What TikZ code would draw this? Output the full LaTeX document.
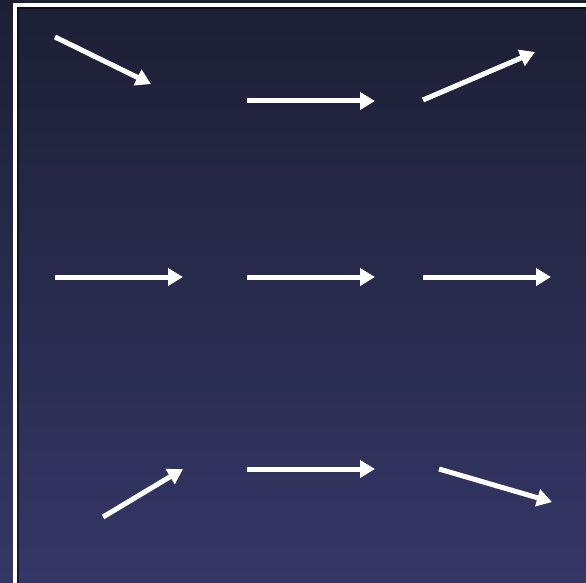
\documentclass[tikz,border=0pt]{standalone}
\usetikzlibrary{arrows.meta}
\definecolor{bgtop}{RGB}{29,31,52}
\definecolor{bgbot}{RGB}{52,55,102}
\tikzset{
  arr/.style={draw=white, line width=5pt, -{Triangle[length=15pt,width=17pt]}},
  frame/.style={draw=white, line width=4pt},
  shadowline/.style={draw=black, opacity=0.55, line width=2pt}
}
\begin{document}
\begin{tikzpicture}[x=1pt,y=-1pt]
  \useasboundingbox (0,0) rectangle (586,583);
  \shade[top color=bgtop, bottom color=bgbot] (0,0) rectangle (586,583);
  % frame
  \draw[shadowline] (18,600) -- (18,8) -- (600,8);
  \draw[frame] (14.5,600) -- (14.5,5.5) -- (600,5.5);
  % coordinates
  \coordinate (a1s) at (55,37);   \coordinate (a1e) at (151,84);
  \coordinate (a2s) at (247,101); \coordinate (a2e) at (375,101);
  \coordinate (a3s) at (423,100); \coordinate (a3e) at (535,52);
  \coordinate (b1s) at (55,277);  \coordinate (b1e) at (183,277);
  \coordinate (b2s) at (247,277); \coordinate (b2e) at (375,277);
  \coordinate (b3s) at (423,277); \coordinate (b3e) at (551,277);
  \coordinate (c1s) at (103,517); \coordinate (c1e) at (183,469);
  \coordinate (c2s) at (247,469); \coordinate (c2e) at (375,469);
  \coordinate (c3s) at (439,469); \coordinate (c3e) at (552,502);
  % arrows
  \draw[arr] (a1s) -- (a1e);
  \draw[arr] (a2s) -- (a2e);
  \draw[arr] (a3s) -- (a3e);
  \draw[arr] (b1s) -- (b1e);
  \draw[arr] (b2s) -- (b2e);
  \draw[arr] (b3s) -- (b3e);
  \draw[arr] (c1s) -- (c1e);
  \draw[arr] (c2s) -- (c2e);
  \draw[arr] (c3s) -- (c3e);
\end{tikzpicture}
\end{document}
